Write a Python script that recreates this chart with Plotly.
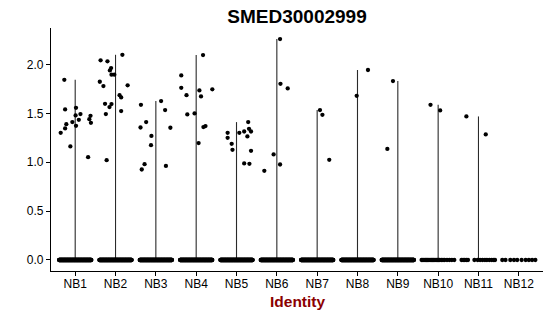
import numpy as np
import plotly.graph_objects as go

groups = ["NB1", "NB2", "NB3", "NB4", "NB5", "NB6", "NB7", "NB8", "NB9", "NB10", "NB11", "NB12"]

# non-zero expression values per group and their jitter offsets (category units)
nb1_vals = [1.844, 1.541, 1.557, 1.493, 1.479, 1.475, 1.441, 1.404, 1.434, 1.411, 1.373, 1.39, 1.346, 1.301, 1.162, 1.052]
nb1_jit = [-0.27, -0.25, 0.02, 0.13, 0.01, 0.38, 0.35, 0.39, 0.09, -0.07, 0.02, -0.22, -0.25, -0.36, -0.12, 0.32]
nb2_vals = [2.043, 2.033, 2.10, 1.964, 1.94, 1.896, 1.896, 1.824, 1.78, 1.787, 1.687, 1.664, 1.598, 1.595, 1.565, 1.493, 1.524, 1.021]
nb2_jit = [-0.37, -0.2, 0.17, -0.11, -0.14, -0.1, -0.03, -0.39, -0.3, 0.3, 0.1, 0.14, -0.26, -0.1, -0.15, -0.24, 0.14, -0.22]
nb3_vals = [1.588, 1.626, 1.534, 1.411, 1.356, 1.353, 1.27, 1.175, 0.98, 0.926, 0.963]
nb3_jit = [-0.37, 0.13, 0.23, -0.24, -0.38, 0.36, -0.11, -0.12, -0.28, -0.35, 0.25]
nb4_vals = [2.097, 1.889, 1.762, 1.735, 1.746, 1.687, 1.674, 1.49, 1.50, 1.36, 1.37, 1.196]
nb4_jit = [0.17, -0.37, -0.37, 0.08, 0.4, -0.24, 0.12, -0.22, -0.04, 0.18, 0.23, 0.06]
nb5_vals = [1.411, 1.342, 1.315, 1.315, 1.301, 1.301, 1.25, 1.264, 1.189, 1.127, 1.117, 0.988, 0.984]
nb5_jit = [0.29, 0.31, 0.36, 0.19, 0.07, -0.22, -0.22, 0.27, -0.12, -0.1, 0.36, 0.19, 0.32]
nb6_vals = [2.261, 1.803, 1.756, 1.08, 0.977, 0.912]
nb6_jit = [0.08, 0.09, 0.27, -0.08, 0.08, -0.31]
nb7_vals = [1.534, 1.486, 1.025]
nb7_jit = [0.07, 0.13, 0.3]
nb8_vals = [1.944, 1.68]
nb8_jit = [0.26, -0.02]
nb9_vals = [1.831, 1.137]
nb9_jit = [-0.12, -0.26]
nb10_vals = [1.588, 1.531]
nb10_jit = [-0.19, 0.05]
nb11_vals = [1.469, 1.285]
nb11_jit = [-0.3, 0.18]
nb12_vals = []
nb12_jit = []

# cells with zero expression: dense groups given as counts, sparse groups as jitter offsets
zero_counts_dense = [180, 180, 180, 180, 180, 180, 180, 180, 180]
nb10_zero_jit = [-0.41, -0.38, -0.35, -0.32, -0.29, -0.26, -0.23, -0.2, -0.17, -0.14, -0.11, -0.08,
                 -0.05, -0.02, 0.01, 0.04, 0.08, 0.12, 0.16, 0.22, 0.28, 0.34, 0.4]
nb11_zero_jit = [-0.42, -0.38, -0.34, -0.3, -0.26, -0.1, -0.02, 0.04, 0.1, 0.16, 0.21, 0.27, 0.33, 0.38, 0.41]
nb12_zero_jit = [-0.41, -0.33, -0.21, -0.12, -0.04, 0.07, 0.17, 0.25, 0.33, 0.41]

vals = [nb1_vals, nb2_vals, nb3_vals, nb4_vals, nb5_vals, nb6_vals, nb7_vals, nb8_vals, nb9_vals,
        nb10_vals, nb11_vals, nb12_vals]
jits = [nb1_jit, nb2_jit, nb3_jit, nb4_jit, nb5_jit, nb6_jit, nb7_jit, nb8_jit, nb9_jit,
        nb10_jit, nb11_jit, nb12_jit]
zero_jits = [list(np.linspace(-0.4, 0.4, n)) for n in zero_counts_dense] + [nb10_zero_jit, nb11_zero_jit, nb12_zero_jit]

fig = go.Figure()

# violin outlines (thin, from 0 to group max)
lx, ly = [], []
for i, v in enumerate(vals):
    if len(v) == 0:
        continue
    lx += [i + 1, i + 1, None]
    ly += [0, max(v), None]
fig.add_trace(go.Scatter(x=lx, y=ly, mode="lines", line=dict(color="#2a2a2a", width=1.1),
                         hoverinfo="skip", showlegend=False))

# zero points
zx, zy = [], []
for i, zj in enumerate(zero_jits):
    zx += [i + 1 + j for j in zj]
    zy += [0] * len(zj)
fig.add_trace(go.Scatter(x=zx, y=zy, mode="markers", marker=dict(color="black", size=4.3),
                         showlegend=False))

# non-zero points
px, py = [], []
for i, (v, j) in enumerate(zip(vals, jits)):
    px += [i + 1 + o for o in j]
    py += v
fig.add_trace(go.Scatter(x=px, y=py, mode="markers", marker=dict(color="black", size=4.3),
                         showlegend=False))

font_family = "Liberation Sans, Arial, sans-serif"
axis_common = dict(showline=True, linecolor="black", linewidth=1.1, ticks="outside", ticklen=4,
                   tickcolor="black", tickwidth=1, showgrid=False, zeroline=False,
                   tickfont=dict(family=font_family, size=12, color="black"))

fig.update_layout(
    width=550, height=316,
    margin=dict(l=51, r=7, t=28, b=45),
    plot_bgcolor="white", paper_bgcolor="white",
    font=dict(family=font_family, color="black"),
    title=dict(text="<b>SMED30002999</b>", x=0.5, xref="paper", xanchor="center",
               y=1 - 16.5 / 316, yref="container", yanchor="middle",
               font=dict(family=font_family, size=19, color="black")),
    xaxis=dict(range=[0.4, 12.6], tickvals=list(range(1, 13)), ticktext=groups,
               ticklabelstandoff=-2, **axis_common),
    yaxis=dict(range=[-0.1127, 2.374], tickvals=[0, 0.5, 1, 1.5, 2],
               ticktext=["0.0", "0.5", "1.0", "1.5", "2.0"], **axis_common),
    annotations=[dict(text="<b>Identity</b>", x=0.5, xref="paper", y=-0.125, yref="paper",
                      xanchor="center", yanchor="middle", showarrow=False,
                      font=dict(family=font_family, size=15.5, color="#8b0000"))],
)

fig.write_html("out.html")
